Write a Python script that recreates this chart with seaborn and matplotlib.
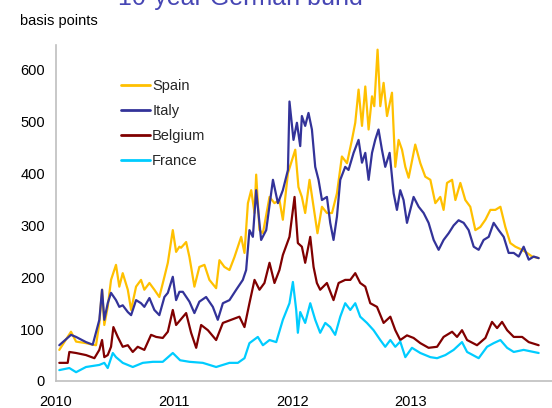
import numpy as np
import pandas as pd
import matplotlib
matplotlib.use("Agg")
import matplotlib.pyplot as plt
import seaborn as sns

# ---- data (decimal years, basis points) ----
spain_t = [2010.028, 2010.127, 2010.170, 2010.254, 2010.311, 2010.339, 2010.367, 2010.390, 2010.409, 2010.438,
           2010.466, 2010.508, 2010.536, 2010.565, 2010.608, 2010.636, 2010.678, 2010.720, 2010.748, 2010.791,
           2010.833, 2010.875, 2010.918, 2010.947, 2010.989, 2011.017, 2011.045, 2011.059, 2011.102, 2011.130,
           2011.172, 2011.214, 2011.257, 2011.299, 2011.356, 2011.384, 2011.426, 2011.469, 2011.511, 2011.568,
           2011.596, 2011.625, 2011.653, 2011.681, 2011.695, 2011.723, 2011.752, 2011.808, 2011.850, 2011.892,
           2011.921, 2011.964, 2012.026, 2012.053, 2012.082, 2012.110, 2012.147, 2012.181, 2012.214, 2012.252,
           2012.294, 2012.337, 2012.379, 2012.421, 2012.464, 2012.506, 2012.534, 2012.562, 2012.591, 2012.619,
           2012.647, 2012.676, 2012.695, 2012.723, 2012.746, 2012.774, 2012.803, 2012.845, 2012.873, 2012.901,
           2012.930, 2012.958, 2012.986, 2013.042, 2013.085, 2013.127, 2013.170, 2013.212, 2013.254, 2013.282,
           2013.311, 2013.354, 2013.382, 2013.424, 2013.466, 2013.508, 2013.551, 2013.593, 2013.636, 2013.678,
           2013.720, 2013.763, 2013.805, 2013.847, 2013.890, 2013.947, 2013.989, 2014.032, 2014.087]
spain_v = [60, 95, 76, 73, 70, 69, 112, 176, 108, 143,
           195, 224, 182, 208, 176, 137, 182, 195, 176, 189,
           176, 162, 201, 228, 291, 249, 259, 257, 268, 239,
           182, 220, 224, 195, 179, 233, 220, 214, 239, 278,
           247, 343, 368, 324, 398, 291, 285, 355, 343, 349,
           311, 401, 446, 374, 355, 324, 388, 336, 285, 336,
           324, 324, 362, 433, 420, 465, 498, 562, 492, 568,
           485, 549, 530, 639, 530, 575, 511, 556, 413, 465,
           446, 413, 392, 456, 420, 394, 388, 343, 355, 330,
           382, 388, 349, 382, 349, 336, 291, 297, 311, 330,
           330, 336, 297, 266, 259, 253, 247, 240, 237]

italy_t = [2010.028, 2010.127, 2010.170, 2010.254, 2010.311, 2010.367, 2010.390, 2010.409, 2010.438, 2010.466,
           2010.508, 2010.536, 2010.565, 2010.608, 2010.636, 2010.678, 2010.720, 2010.748, 2010.791, 2010.833,
           2010.875, 2010.918, 2010.947, 2010.989, 2011.017, 2011.045, 2011.074, 2011.130, 2011.172, 2011.214,
           2011.271, 2011.328, 2011.370, 2011.413, 2011.469, 2011.526, 2011.582, 2011.610, 2011.638, 2011.667,
           2011.695, 2011.737, 2011.780, 2011.837, 2011.879, 2011.921, 2011.964, 2011.977, 2012.011, 2012.040,
           2012.068, 2012.082, 2012.110, 2012.138, 2012.167, 2012.195, 2012.223, 2012.252, 2012.294, 2012.322,
           2012.350, 2012.379, 2012.407, 2012.449, 2012.477, 2012.520, 2012.562, 2012.591, 2012.619, 2012.647,
           2012.676, 2012.703, 2012.731, 2012.760, 2012.788, 2012.825, 2012.859, 2012.887, 2012.915, 2012.943,
           2012.972, 2013.028, 2013.071, 2013.113, 2013.155, 2013.198, 2013.240, 2013.282, 2013.325, 2013.367,
           2013.409, 2013.452, 2013.494, 2013.537, 2013.579, 2013.621, 2013.664, 2013.706, 2013.748, 2013.791,
           2013.833, 2013.876, 2013.918, 2013.960, 2014.003, 2014.045, 2014.087]
italy_v = [69, 89, 85, 75, 70, 118, 176, 118, 150, 170,
           156, 143, 146, 133, 127, 156, 150, 143, 160, 137,
           127, 162, 170, 201, 156, 172, 172, 153, 131, 153,
           162, 143, 118, 150, 156, 176, 195, 214, 291, 278,
           368, 272, 291, 388, 343, 368, 407, 539, 465, 498,
           453, 511, 492, 517, 485, 413, 388, 349, 355, 305,
           272, 317, 388, 413, 407, 440, 465, 421, 440, 388,
           440, 465, 485, 446, 413, 440, 362, 330, 368, 349,
           305, 355, 336, 324, 305, 272, 253, 272, 285, 300,
           310, 305, 291, 259, 253, 272, 278, 305, 291, 278,
           247, 247, 240, 259, 234, 240, 237]

belgium_t = [2010.028, 2010.099, 2010.113, 2010.170, 2010.254, 2010.325, 2010.367, 2010.390, 2010.409, 2010.438,
             2010.466, 2010.486, 2010.523, 2010.565, 2010.608, 2010.650, 2010.692, 2010.748, 2010.805, 2010.848,
             2010.904, 2010.947, 2010.989, 2011.017, 2011.102, 2011.144, 2011.187, 2011.229, 2011.286, 2011.356,
             2011.413, 2011.483, 2011.553, 2011.596, 2011.638, 2011.681, 2011.723, 2011.765, 2011.808, 2011.850,
             2011.892, 2011.921, 2011.977, 2012.020, 2012.048, 2012.082, 2012.110, 2012.153, 2012.181, 2012.209,
             2012.237, 2012.294, 2012.350, 2012.393, 2012.449, 2012.492, 2012.534, 2012.576, 2012.619, 2012.661,
             2012.718, 2012.774, 2012.831, 2012.873, 2012.915, 2012.972, 2013.028, 2013.085, 2013.155, 2013.227,
             2013.282, 2013.354, 2013.396, 2013.438, 2013.481, 2013.565, 2013.636, 2013.692, 2013.735, 2013.777,
             2013.820, 2013.876, 2013.947, 2014.003, 2014.087]
belgium_v = [35, 35, 56, 54, 50, 44, 60, 79, 46, 50,
             66, 104, 85, 66, 69, 56, 66, 60, 89, 85,
             83, 95, 137, 108, 131, 93, 64, 108, 98, 79,
             112, 118, 124, 104, 150, 195, 176, 189, 228, 189,
             214, 243, 278, 355, 266, 259, 228, 278, 220, 189,
             176, 189, 156, 189, 195, 195, 208, 189, 182, 150,
             143, 112, 124, 98, 79, 88, 83, 73, 64, 66,
             85, 95, 85, 98, 79, 69, 83, 114, 102, 114,
             98, 85, 85, 75, 69]

france_t = [2010.028, 2010.113, 2010.170, 2010.254, 2010.367, 2010.409, 2010.438, 2010.481, 2010.508, 2010.565,
            2010.650, 2010.735, 2010.820, 2010.904, 2010.989, 2011.051, 2011.130, 2011.243, 2011.356, 2011.469,
            2011.540, 2011.596, 2011.638, 2011.709, 2011.752, 2011.808, 2011.865, 2011.921, 2011.977, 2012.006,
            2012.034, 2012.048, 2012.068, 2012.110, 2012.153, 2012.195, 2012.237, 2012.280, 2012.322, 2012.364,
            2012.407, 2012.449, 2012.492, 2012.534, 2012.576, 2012.633, 2012.689, 2012.746, 2012.788, 2012.831,
            2012.873, 2012.915, 2012.958, 2013.014, 2013.085, 2013.170, 2013.227, 2013.297, 2013.367, 2013.438,
            2013.481, 2013.579, 2013.650, 2013.706, 2013.763, 2013.820, 2013.876, 2013.960, 2014.087]
france_v = [21, 25, 17, 27, 31, 35, 25, 54, 46, 35,
            27, 35, 37, 37, 54, 40, 37, 35, 27, 35,
            35, 44, 73, 85, 69, 79, 75, 118, 150, 191,
            137, 93, 133, 112, 150, 118, 93, 112, 104, 89,
            124, 150, 137, 150, 124, 112, 98, 79, 66, 79,
            66, 76, 46, 64, 54, 46, 44, 50, 60, 75,
            56, 44, 66, 73, 79, 64, 56, 60, 54]

countries = ["Spain", "Italy", "Belgium", "France"]
colors = {"Spain": "#FFC000", "Italy": "#333399", "Belgium": "#800000", "France": "#00CCFF"}
year_ticks = [2010, 2011, 2012, 2013]
y_ticks = [0, 100, 200, 300, 400, 500, 600]

frames = []
for name, t, v in [("Spain", spain_t, spain_v), ("Italy", italy_t, italy_v),
                   ("Belgium", belgium_t, belgium_v), ("France", france_t, france_v)]:
    frames.append(pd.DataFrame({"t": t, "v": v, "country": name}))
df = pd.concat(frames, ignore_index=True)

sns.set_style("white")
plt.rcParams["font.family"] = ["Liberation Sans", "DejaVu Sans"]

fig = plt.figure(figsize=(5.52, 4.08), dpi=100)
ax = fig.add_axes([56 / 552, 1 - 381 / 408, 1 - 56 / 552, (381 - 45) / 408])

sns.lineplot(data=df, x="t", y="v", hue="country", hue_order=countries,
             palette=colors, linewidth=1.6, ax=ax, estimator=None, sort=False)

ax.set_xlim(2010, 2014.2)
ax.set_ylim(0, 648)
ax.set_xticks(year_ticks)
ax.set_xticklabels([str(y) for y in year_ticks])
ax.set_yticks(y_ticks)
ax.set_xlabel("")
ax.set_ylabel("")
ax.tick_params(axis="both", length=0, labelsize=10.5, colors="#000000")
ax.tick_params(axis="x", pad=10)
ax.tick_params(axis="y", pad=8)
for side in ["top", "right"]:
    ax.spines[side].set_visible(False)
for side in ["left", "bottom"]:
    ax.spines[side].set_color("#BFBFBF")
    ax.spines[side].set_linewidth(1.2)

leg = ax.legend(loc="upper left", bbox_to_anchor=(115 / 552, 1 - 73 / 408),
                bbox_transform=fig.transFigure, frameon=False, fontsize=10.5,
                handlelength=2.0, handletextpad=0.15, labelspacing=0.76, borderaxespad=0)
for line in leg.get_lines():
    line.set_linewidth(2.0)

fig.text(20 / 552, 1 - 25 / 408, "basis points", fontsize=10.5, va="baseline", ha="left", color="#000000")
fig.text(118 / 552, 1 - 5 / 408, "10-year German bund", fontsize=18, va="baseline", ha="left", color="#4646B4")

fig.savefig("out.png", dpi=100)
